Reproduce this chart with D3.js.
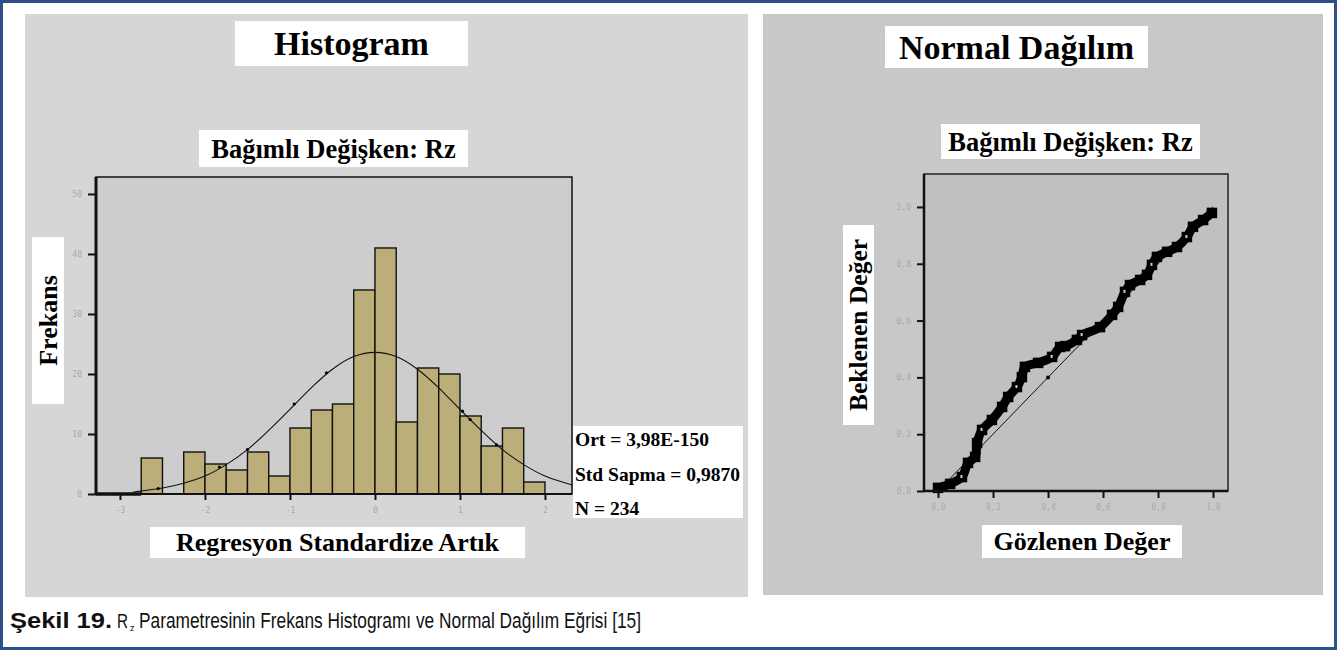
<!DOCTYPE html>
<html>
<head>
<meta charset="utf-8">
<script src="https://cdn.jsdelivr.net/npm/d3@7"></script>
<style>
  html, body { margin: 0; padding: 0; background: #fff; }
  svg { display: block; }
  .serif { font-family: "Liberation Serif", "Times New Roman", serif; font-weight: bold; fill: #000; }
  .tick-label { font-family: "DejaVu Sans Mono", monospace; font-size: 8px; fill: #a8a8a8; }
</style>
</head>
<body>
<svg id="fig" width="1338" height="651"></svg>
<script>
// ---- Histogram of standardized regression residuals ----
const binStarts = [-2.75, -2.5, -2.25, -2.0, -1.75, -1.5, -1.25, -1.0, -0.75, -0.5, -0.25, 0.0, 0.25, 0.5, 0.75, 1.0, 1.25, 1.5, 1.75];
const binCounts = [6, 0, 7, 5, 4, 7, 3, 11, 14, 15, 34, 41, 12, 21, 20, 13, 8, 11, 2];
const binWidth = 0.25;

// fitted normal curve
const curveX = [-2.85, -2.75, -2.5, -2.25, -2.0, -1.75, -1.5, -1.25, -1.0, -0.75, -0.5, -0.25, 0.0, 0.25, 0.5, 0.75, 1.0, 1.25, 1.5, 1.75, 2.0, 2.25, 2.32];
const curveY = [0.3, 0.5, 1.0, 1.8, 3.0, 4.9, 7.4, 10.6, 14.1, 17.7, 20.8, 22.9, 23.6, 22.9, 20.8, 17.7, 14.1, 10.6, 7.4, 4.9, 3.0, 1.8, 1.5];
const curveDotX = [-2.55, -1.83, -1.5, -0.95, -0.57, 1.03, 1.12, 1.43];
const curveDotY = [0.9, 4.5, 7.4, 15.0, 20.2, 13.8, 12.4, 8.2];

const histXTicks = [-3, -2, -1, 0, 1, 2];
const histXTickLabels = ["-3", "-2", "-1", "0", "1", "2"];
const histYTicks = [0, 10, 20, 30, 40, 50];
const histYTickLabels = ["0", "10", "20", "30", "40", "50"];

const statsLines = ["Ort = 3,98E-150", "Std Sapma = 0,9870", "N = 234"];

// ---- P-P plot: observed vs expected cumulative probability ----
const ppObserved = [0.000, 0.044, 0.087, 0.109, 0.135, 0.142, 0.160, 0.196, 0.233, 0.255, 0.287, 0.305, 0.316, 0.364, 0.415, 0.444, 0.462, 0.505, 0.524, 0.589, 0.633, 0.655, 0.680, 0.698, 0.735, 0.760, 0.778, 0.796, 0.833, 0.869, 0.905, 0.927, 0.964, 0.996];
const ppExpected = [0.011, 0.025, 0.049, 0.099, 0.120, 0.169, 0.215, 0.250, 0.296, 0.331, 0.366, 0.401, 0.437, 0.451, 0.472, 0.507, 0.510, 0.532, 0.549, 0.577, 0.620, 0.648, 0.701, 0.725, 0.743, 0.761, 0.796, 0.824, 0.842, 0.859, 0.894, 0.930, 0.954, 0.979];
const refLine = [0, 1];
const refDots = [0.4];
const ppTicks = [0, 0.2, 0.4, 0.6, 0.8, 1.0];

const svg = d3.select("#fig");

// page frame
svg.append("rect").attr("x", 1.5).attr("y", 1.5).attr("width", 1334).attr("height", 647)
  .attr("fill", "#fff").attr("stroke", "#2f4f8a").attr("stroke-width", 3);

// panel backgrounds
svg.append("rect").attr("x", 25).attr("y", 14).attr("width", 723).attr("height", 583).attr("fill", "#d6d6d6");
svg.append("rect").attr("x", 763).attr("y", 14).attr("width", 560).attr("height", 581).attr("fill", "#c8c8c8");

// white label boxes with bold serif text
function labelBox(g, x, y, w, h, text, size, rotate) {
  g.append("rect").attr("x", x).attr("y", y).attr("width", w).attr("height", h).attr("fill", "#fff");
  const cx = x + w / 2, cy = y + h / 2;
  const t = g.append("text").attr("class", "serif").attr("font-size", size)
    .attr("text-anchor", "middle").attr("dominant-baseline", "central").text(text);
  if (rotate) t.attr("transform", `translate(${cx},${cy}) rotate(-90)`);
  else t.attr("x", cx).attr("y", cy);
  return t;
}

// ================= Histogram panel =================
const hx = d3.scaleLinear().domain([-3.282, 2.318]).range([96, 572]);
const hy = d3.scaleLinear().domain([0, 52.83]).range([494, 177]);
const hg = svg.append("g");

labelBox(hg, 235, 21, 233, 45, "Histogram", 34);
labelBox(hg, 199, 130, 269, 37, "Bağımlı Değişken: Rz", 26.5);
labelBox(hg, 32, 237, 32, 167, "Frekans", 26, true);
labelBox(hg, 150, 527, 375, 31, "Regresyon Standardize Artık", 26);

// plot background and frame
hg.append("rect").attr("x", hx.range()[0]).attr("y", hy.range()[1])
  .attr("width", hx.range()[1] - hx.range()[0]).attr("height", hy.range()[0] - hy.range()[1])
  .attr("fill", "#cdcdcd").attr("stroke", "#111").attr("stroke-width", 1.5);

// bars
hg.selectAll("rect.bar").data(binStarts.map((s, i) => ({ s, c: binCounts[i] })).filter(d => d.c > 0))
  .join("rect").attr("class", "bar")
  .attr("x", d => hx(d.s)).attr("width", d => hx(d.s + binWidth) - hx(d.s))
  .attr("y", d => hy(d.c)).attr("height", d => hy(0) - hy(d.c))
  .attr("fill", "#bcae78").attr("stroke", "#111").attr("stroke-width", 1.4);

// normal curve
const lineH = d3.line().x((d, i) => hx(curveX[i])).y(d => hy(d)).curve(d3.curveCatmullRom);
hg.append("path").attr("d", lineH(curveY)).attr("fill", "none").attr("stroke", "#111").attr("stroke-width", 1.1);
hg.selectAll("circle.cd").data(curveDotY).join("circle").attr("class", "cd")
  .attr("cx", (d, i) => hx(curveDotX[i])).attr("cy", d => hy(d)).attr("r", 1.6).attr("fill", "#000");

// baseline, heavier over the empty leading bins
hg.append("line").attr("x1", hx.range()[0]).attr("x2", hx.range()[1]).attr("y1", hy(0)).attr("y2", hy(0))
  .attr("stroke", "#111").attr("stroke-width", 2);
hg.append("line").attr("x1", hx.range()[0]).attr("x2", hx(binStarts[0])).attr("y1", hy(0)).attr("y2", hy(0))
  .attr("stroke", "#111").attr("stroke-width", 3.5);
// left axis line
hg.append("line").attr("x1", hx.range()[0]).attr("x2", hx.range()[0]).attr("y1", hy.range()[1]).attr("y2", hy(0))
  .attr("stroke", "#111").attr("stroke-width", 3);

// y axis
const hyAxis = d3.axisLeft(hy).tickValues(histYTicks).tickSize(8).tickPadding(6)
  .tickFormat((d, i) => histYTickLabels[i]);
const hyg = hg.append("g").attr("transform", `translate(${hx.range()[0]},0)`).call(hyAxis);
hyg.select(".domain").remove();
hyg.selectAll(".tick line").attr("stroke", "#111").attr("stroke-width", 2);
hyg.selectAll(".tick text").attr("class", "tick-label").attr("font-family", null).attr("font-size", null).attr("fill", null);

// x axis
const hxAxis = d3.axisBottom(hx).tickValues(histXTicks).tickSize(6).tickPadding(7)
  .tickFormat((d, i) => histXTickLabels[i]);
const hxg = hg.append("g").attr("transform", `translate(0,${hy(0)})`).call(hxAxis);
hxg.select(".domain").remove();
hxg.selectAll(".tick line").attr("stroke", "#111").attr("stroke-width", 2);
hxg.selectAll(".tick text").attr("class", "tick-label").attr("font-family", null).attr("font-size", null).attr("fill", null);

// statistics box
hg.append("rect").attr("x", 573).attr("y", 426).attr("width", 170).attr("height", 92).attr("fill", "#fff");
hg.selectAll("text.stat").data(statsLines).join("text").attr("class", "serif stat")
  .attr("x", 575).attr("y", (d, i) => 446 + i * 34.5).attr("font-size", 19.5).text(d => d);

// ================= Normal P-P panel =================
const px = d3.scaleLinear().domain([-0.051, 1.0545]).range([924, 1228]);
const py = d3.scaleLinear().domain([0, 1.116]).range([491, 174]);
const pg = svg.append("g");

labelBox(pg, 885, 26, 263, 42, "Normal Dağılım", 34);
labelBox(pg, 941, 124, 259, 35, "Bağımlı Değişken: Rz", 26.5);
labelBox(pg, 843, 225, 31, 200, "Beklenen Değer", 25.5, true);
labelBox(pg, 982, 525, 200, 33, "Gözlenen Değer", 26);

pg.append("rect").attr("x", px.range()[0]).attr("y", py.range()[1])
  .attr("width", px.range()[1] - px.range()[0]).attr("height", py.range()[0] - py.range()[1])
  .attr("fill", "#c0c0c0").attr("stroke", "#222").attr("stroke-width", 1.5);

// diagonal reference line
pg.append("line").attr("x1", px(refLine[0])).attr("y1", py(refLine[0]))
  .attr("x2", px(refLine[1])).attr("y2", py(refLine[1])).attr("stroke", "#111").attr("stroke-width", 1);
pg.selectAll("circle.rd").data(refDots).join("circle").attr("class", "rd")
  .attr("cx", d => px(d)).attr("cy", d => py(d)).attr("r", 2).attr("fill", "#000");

// dense band of observed points
const ppPts = ppObserved.map((o, i) => [o, ppExpected[i]]);
const lineP = d3.line().x(d => px(d[0])).y(d => py(d[1])).curve(d3.curveCatmullRom);
pg.append("path").attr("d", lineP(ppPts)).attr("fill", "none").attr("stroke", "#000")
  .attr("stroke-width", 9).attr("stroke-linecap", "round").attr("stroke-linejoin", "round");
pg.selectAll("rect.pt").data(ppPts).join("rect").attr("class", "pt")
  .attr("x", d => px(d[0]) - 4.5).attr("y", d => py(d[1]) - 4.5).attr("width", 9).attr("height", 9)
  .attr("fill", "#000").attr("stroke", "#000").attr("stroke-width", 1.5);
pg.selectAll("rect.speck").data(ppPts.filter((d, i) => i % 4 === 2)).join("rect").attr("class", "speck")
  .attr("x", d => px(d[0]) - 1.5).attr("y", d => py(d[1]) - 2).attr("width", 2).attr("height", 3)
  .attr("fill", "#cfcfcf");

// axes
const fmtP = d => d3.format(".1f")(d).replace(".", ",");
const pyAxis = d3.axisLeft(py).tickValues(ppTicks).tickSize(7).tickPadding(6).tickFormat(fmtP);
const pyg = pg.append("g").attr("transform", `translate(${px.range()[0]},0)`).call(pyAxis);
pyg.select(".domain").remove();
pyg.selectAll(".tick line").attr("stroke", "#111").attr("stroke-width", 2);
pyg.selectAll(".tick text").attr("class", "tick-label").attr("font-family", null).attr("font-size", null).attr("fill", null);

const pxAxis = d3.axisBottom(px).tickValues(ppTicks).tickSize(7).tickPadding(6).tickFormat(fmtP);
const pxg = pg.append("g").attr("transform", `translate(0,${py(0)})`).call(pxAxis);
pxg.select(".domain").remove();
pxg.selectAll(".tick line").attr("stroke", "#111").attr("stroke-width", 2);
pxg.selectAll(".tick text").attr("class", "tick-label").attr("font-family", null).attr("font-size", null).attr("fill", null);

pg.append("line").attr("x1", px.range()[0]).attr("x2", px.range()[1]).attr("y1", py(0)).attr("y2", py(0))
  .attr("stroke", "#111").attr("stroke-width", 2.5);
pg.append("line").attr("x1", px.range()[0]).attr("x2", px.range()[0]).attr("y1", py.range()[1]).attr("y2", py(0))
  .attr("stroke", "#111").attr("stroke-width", 2.5);

// ================= Caption =================
const cap = svg.append("g").attr("font-family", "'Liberation Sans Narrow', 'Liberation Sans', Arial, sans-serif")
  .attr("font-size", 22).attr("fill", "#111");
cap.append("text").attr("x", 10).attr("y", 628).attr("font-weight", "bold")
  .attr("textLength", 102).attr("lengthAdjust", "spacingAndGlyphs").text("Şekil 19.");
cap.append("text").attr("x", 117).attr("y", 628).attr("font-size", 20)
  .attr("textLength", 11).attr("lengthAdjust", "spacingAndGlyphs").text("R");
cap.append("text").attr("x", 130).attr("y", 631).attr("font-size", 9).text("z");
cap.append("text").attr("x", 139).attr("y", 628).attr("textLength", 502).attr("lengthAdjust", "spacingAndGlyphs")
  .text("Parametresinin Frekans Histogramı ve Normal Dağılım Eğrisi [15]");
</script>
</body>
</html>
